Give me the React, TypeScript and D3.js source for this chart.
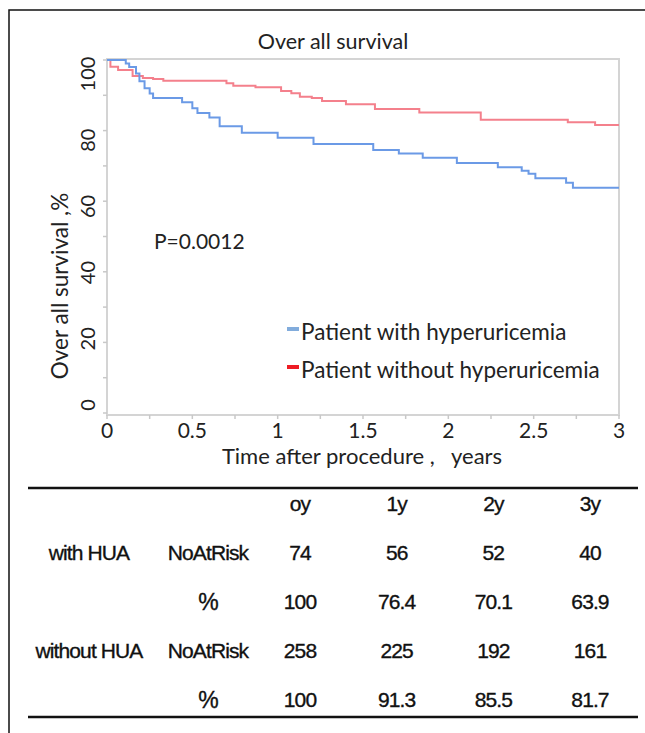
import React from 'react';
import * as d3 from 'd3';

// survival curve steps (years, % surviving)
const huaTimes = [0, 0.11, 0.13, 0.17, 0.19, 0.22, 0.25, 0.27, 0.44, 0.5, 0.53, 0.6, 0.66, 0.79, 1.0, 1.21, 1.56, 1.71, 1.85, 2.05, 2.29, 2.43, 2.47, 2.51, 2.69, 2.73, 3];
const huaSurv = [100, 99, 98, 96.2, 94, 92, 90.5, 89.2, 88, 86.3, 85, 83.7, 81.2, 79.4, 78, 76.2, 74.5, 73.5, 72.3, 70.8, 69.6, 68.6, 67.8, 66.5, 65.2, 63.8, 63.8];
const noHuaTimes = [0, 0.02, 0.065, 0.15, 0.21, 0.27, 0.33, 0.7, 0.74, 0.87, 1.02, 1.08, 1.13, 1.2, 1.26, 1.4, 1.57, 1.83, 2.19, 2.7, 2.86, 3];
const noHuaSurv = [100, 98.1, 97.2, 95.5, 94.9, 94.6, 94.1, 93.4, 92.7, 92.3, 91.2, 90.6, 89.6, 89.2, 88.4, 87.5, 86.1, 85.1, 83.1, 82.4, 81.6, 81.6];

const xTicks = [0, 0.5, 1, 1.5, 2, 2.5, 3];
const yTicks = [0, 20, 40, 60, 80, 100];
const legendLabels = ['Patient with hyperuricemia', 'Patient without hyperuricemia'];

// number at risk table
const tableCols = ['oy', '1y', '2y', '3y'];
const huaAtRisk = ['74', '56', '52', '40'];
const huaPct = ['100', '76.4', '70.1', '63.9'];
const noHuaAtRisk = ['258', '225', '192', '161'];
const noHuaPct = ['100', '91.3', '85.5', '81.7'];

const W = 645;
const H = 733;
const font = 'Lato, "Open Sans", sans-serif';
const tfont = '"Liberation Sans", Arial, sans-serif';

export default function App() {
  const x = d3.scaleLinear().domain([0, 3]).range([107, 619]);
  const y = d3.scaleLinear().domain([0, 100]).range([413, 60]);
  // the printed tick labels sit on a slightly tighter scale than the curves
  const yLab = d3.scaleLinear().domain([0, 100]).range([405, 74]);

  const line = d3.line<[number, number]>()
    .x(d => x(d[0]))
    .y(d => y(d[1]))
    .curve(d3.curveStepAfter);

  const hua = huaTimes.map((t, i) => [t, huaSurv[i]] as [number, number]);
  const noHua = noHuaTimes.map((t, i) => [t, noHuaSurv[i]] as [number, number]);

  const minorX = d3.range(0, 3.001, 0.25);
  const minorY = d3.range(0, 100.001, 10);

  const col = d3.scalePoint<string>().domain(tableCols).range([300, 590]);
  const row = d3.scalePoint<string>().domain(['head', 'r1', 'r2', 'r3', 'r4']).range([504, 700]);

  const rows = [
    { key: 'r1', group: 'with HUA', kind: 'NoAtRisk', vals: huaAtRisk },
    { key: 'r2', group: '', kind: '%', vals: huaPct },
    { key: 'r3', group: 'without HUA', kind: 'NoAtRisk', vals: noHuaAtRisk },
    { key: 'r4', group: '', kind: '%', vals: noHuaPct },
  ];

  const tstyle = { fontFamily: tfont, fontSize: 21, fill: '#111', stroke: '#111', strokeWidth: 0.35, letterSpacing: -0.9 };

  return (
    <svg width={W} height={H} style={{ position: 'absolute', left: 0, top: 0, background: '#fff' }}>
      <rect x={9} y={10} width={660} height={760} fill="none" stroke="#111" strokeWidth={1.5} />

      <text x={333} y={49} textAnchor="middle" fontFamily={font} fontSize={21.5} fill="#222">Over all survival</text>

      {/* plot frame */}
      <rect x={107} y={59} width={512} height={356} fill="none" stroke="#d4d4d4" strokeWidth={2} />
      {minorX.map(t => (
        <line key={'mx' + t} x1={x(t)} x2={x(t)} y1={415} y2={419} stroke="#c8c8c8" strokeWidth={1.5} />
      ))}
      {minorY.map(v => (
        <line key={'my' + v} x1={103} x2={107} y1={y(v)} y2={y(v)} stroke="#c8c8c8" strokeWidth={1.5} />
      ))}

      {xTicks.map(t => (
        <text key={'xt' + t} x={x(t)} y={438} textAnchor="middle" fontFamily={font} fontSize={21} fill="#222">{t}</text>
      ))}
      {yTicks.map(v => (
        <text key={'yt' + v} transform={`translate(88,${yLab(v)}) rotate(-90)`} dy="0.35em" textAnchor="middle"
          fontFamily={font} fontSize={20} fill="#222">{v}</text>
      ))}

      <text x={362} y={464} textAnchor="middle" fontFamily={font} fontSize={22} fill="#222" style={{ whiteSpace: 'pre' }}>
        {'Time after procedure ,   years'}
      </text>
      <text transform="translate(60,286) rotate(-90)" dy="0.35em" textAnchor="middle" fontFamily={font} fontSize={22.5} fill="#222">
        Over all survival ,%
      </text>

      <path d={line(noHua) || ''} fill="none" stroke="#f4808c" strokeWidth={2} />
      <path d={line(hua) || ''} fill="none" stroke="#6b9ae6" strokeWidth={2} />

      <text x={154} y={249} fontFamily={font} fontSize={21} fill="#222">P=0.0012</text>

      {legendLabels.map((lab, i) => (
        <g key={lab} transform={`translate(287,${329 + i * 38})`}>
          <rect x={0} y={-2} width={12} height={4} fill={i === 0 ? '#82acdc' : '#ee1c24'} />
          <text x={14} y={11} fontFamily={font} fontSize={22.5} fill="#222">{lab}</text>
        </g>
      ))}

      {/* number at risk table */}
      <line x1={28} x2={638} y1={488} y2={488} stroke="#111" strokeWidth={2.5} />
      <line x1={28} x2={638} y1={717} y2={717} stroke="#111" strokeWidth={2.5} />
      {tableCols.map(c => (
        <text key={c} x={col(c)} y={row('head')} dy="0.35em" textAnchor="middle" {...tstyle}>{c}</text>
      ))}
      {rows.map(r => (
        <g key={r.key}>
          {r.group && (
            <text x={89} y={row(r.key)} dy="0.35em" textAnchor="middle" {...tstyle}>{r.group}</text>
          )}
          <text x={208} y={row(r.key)} dy="0.35em" textAnchor="middle" {...tstyle} fontSize={r.kind === '%' ? 23 : 21}>{r.kind}</text>
          {r.vals.map((v, i) => (
            <text key={i} x={col(tableCols[i])} y={row(r.key)} dy="0.35em" textAnchor="middle" {...tstyle}>{v}</text>
          ))}
        </g>
      ))}
    </svg>
  );
}
